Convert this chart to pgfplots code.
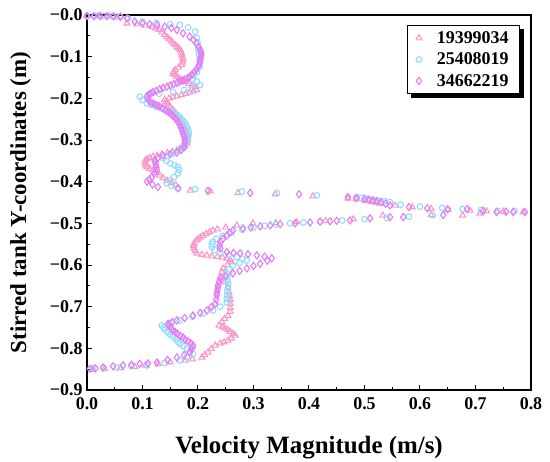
\documentclass[border=0pt]{standalone}
\usepackage{fontspec}
\setmainfont{Liberation Serif}
\usepackage{pgfplots}
\pgfplotsset{compat=1.18}
\usetikzlibrary{shadows}
\definecolor{cA}{RGB}{250,150,200}
\definecolor{cB}{RGB}{145,220,250}
\definecolor{cC}{RGB}{225,125,248}
\begin{document}
\begin{tikzpicture}
\useasboundingbox (-87bp,-72bp) rectangle (463bp,390bp);
\begin{axis}[
  scale only axis, width=444bp, height=375bp,
  xmin=0, xmax=0.8, ymin=-0.9, ymax=0,
  xtick={0,0.1,0.2,0.3,0.4,0.5,0.6,0.7,0.8},
  xticklabels={0.0,0.1,0.2,0.3,0.4,0.5,0.6,0.7,0.8},
  ytick={-0.9,-0.8,-0.7,-0.6,-0.5,-0.4,-0.3,-0.2,-0.1,0},
  yticklabels={−0.9,−0.8,−0.7,−0.6,−0.5,−0.4,−0.3,−0.2,−0.1,−0.0},
  minor x tick num=1, minor y tick num=1,
  tick align=inside, xtick pos=bottom, ytick pos=left,
  major tick length=5bp, minor tick length=3bp,
  axis line style={line width=1.3pt},
  every tick/.style={black, line width=1pt},
  ticklabel style={font=\fontsize{18}{18}\selectfont\bfseries},
  xticklabel style={yshift=-4bp},
  yticklabel style={xshift=-1bp},
  xlabel={Velocity Magnitude (m/s)},
  ylabel={Stirred tank Y-coordinates (m)},
  xlabel style={font=\fontsize{25}{25}\selectfont\bfseries, yshift=-20bp},
  ylabel style={font=\fontsize{23}{23}\selectfont\bfseries, yshift=12bp},
  legend style={at={(rel axis cs:0.975,0.973)}, anchor=north east,
    draw=black, line width=0.6pt, fill=white,
    drop shadow={shadow xshift=4bp, shadow yshift=-4bp, fill=black, opacity=1},
    font=\fontsize{18}{18}\selectfont\bfseries, row sep=4bp,
    inner xsep=9bp, inner ysep=4bp,
    /tikz/every odd column/.append style={column sep=13bp}},
  legend cell align=left,
]
\addplot[only marks, mark=triangle, mark size=3.4pt, cA, line width=1.1pt] coordinates {
(0,-0.002)(0.02,-0.002)(0.04,-0.003)(0.055,-0.006)
(0.072,-0.020)(0.090,-0.022)(0.105,-0.025)(0.117,-0.028)(0.124,-0.032)(0.130,-0.036)(0.135,-0.042)(0.140,-0.048)
(0.144,-0.053)(0.148,-0.058)(0.152,-0.063)(0.155,-0.068)(0.159,-0.072)(0.162,-0.076)(0.165,-0.080)(0.168,-0.084)(0.170,-0.090)(0.171,-0.096)(0.172,-0.102)(0.173,-0.108)
(0.172,-0.114)(0.171,-0.120)(0.165,-0.126)(0.159,-0.132)(0.156,-0.136)(0.155,-0.140)(0.158,-0.144)(0.162,-0.148)(0.166,-0.152)(0.171,-0.156)
(0.177,-0.160)(0.183,-0.165)(0.189,-0.169)(0.195,-0.173)(0.198,-0.180)(0.192,-0.183)(0.185,-0.186)(0.178,-0.189)(0.170,-0.192)(0.162,-0.195)(0.155,-0.197)(0.148,-0.200)
(0.140,-0.203)(0.142,-0.208)(0.145,-0.212)(0.148,-0.217)(0.150,-0.221)(0.155,-0.228)(0.160,-0.236)(0.164,-0.244)(0.168,-0.252)(0.172,-0.260)(0.175,-0.268)(0.178,-0.276)
(0.180,-0.284)(0.181,-0.290)(0.181,-0.296)(0.181,-0.302)(0.180,-0.308)(0.176,-0.313)(0.172,-0.317)(0.167,-0.321)(0.162,-0.325)(0.154,-0.328)(0.145,-0.331)(0.135,-0.334)
(0.126,-0.337)(0.119,-0.340)(0.113,-0.343)(0.108,-0.346)(0.105,-0.349)(0.105,-0.356)(0.106,-0.361)(0.108,-0.365)(0.113,-0.369)(0.119,-0.373)(0.125,-0.379)
(0.131,-0.385)(0.137,-0.391)(0.144,-0.397)(0.152,-0.403)(0.160,-0.408)(0.186,-0.421)(0.222,-0.423)(0.272,-0.427)
(0.339,-0.430)(0.407,-0.435)(0.470,-0.440)(0.485,-0.442)(0.500,-0.445)(0.507,-0.446)(0.515,-0.448)(0.522,-0.450)(0.530,-0.452)
(0.555,-0.457)(0.586,-0.461)(0.620,-0.465)(0.650,-0.467)(0.690,-0.469)(0.720,-0.471)
(0.750,-0.472)(0.786,-0.473)
(0.708,-0.476)(0.677,-0.481)(0.620,-0.480)(0.533,-0.481)(0.480,-0.490)(0.430,-0.494)
(0.378,-0.497)(0.340,-0.499)(0.299,-0.500)(0.270,-0.505)(0.250,-0.510)(0.235,-0.514)
(0.227,-0.517)(0.221,-0.521)(0.215,-0.525)(0.209,-0.530)(0.204,-0.534)(0.200,-0.538)(0.197,-0.541)(0.193,-0.548)(0.192,-0.554)(0.193,-0.560)(0.195,-0.566)
(0.198,-0.572)(0.207,-0.575)(0.216,-0.577)(0.225,-0.579)(0.235,-0.580)(0.244,-0.582)(0.252,-0.584)(0.258,-0.588)(0.261,-0.593)(0.253,-0.600)(0.245,-0.608)(0.243,-0.618)
(0.243,-0.629)(0.248,-0.641)(0.254,-0.654)(0.256,-0.665)(0.257,-0.675)(0.258,-0.684)(0.258,-0.693)(0.258,-0.703)(0.258,-0.712)(0.254,-0.722)(0.248,-0.729)
(0.243,-0.736)(0.238,-0.745)(0.244,-0.749)(0.249,-0.752)(0.254,-0.756)(0.258,-0.760)(0.263,-0.765)(0.267,-0.769)(0.260,-0.776)
(0.254,-0.781)(0.247,-0.785)(0.240,-0.788)(0.231,-0.793)(0.224,-0.801)(0.218,-0.810)(0.212,-0.816)
(0.207,-0.822)(0.190,-0.826)(0.177,-0.829)(0.150,-0.833)(0.128,-0.837)(0.105,-0.841)
(0.086,-0.844)(0.060,-0.847)(0.032,-0.849)(0.010,-0.851)
};
\addlegendentry{19399034}
\addplot[only marks, mark=o, mark size=2.9pt, cB, line width=1.1pt] coordinates {
(0,-0.002)(0.015,-0.002)(0.03,-0.002)(0.045,-0.003)(0.06,-0.004)
(0.074,-0.008)(0.100,-0.016)(0.125,-0.019)(0.150,-0.022)(0.167,-0.024)(0.182,-0.030)
(0.195,-0.040)(0.198,-0.055)(0.199,-0.066)(0.200,-0.076)(0.201,-0.085)(0.202,-0.095)(0.203,-0.104)(0.204,-0.112)(0.203,-0.124)
(0.198,-0.137)(0.192,-0.145)(0.190,-0.153)(0.198,-0.160)(0.204,-0.168)(0.191,-0.176)
(0.175,-0.180)(0.155,-0.185)(0.130,-0.189)(0.110,-0.192)(0.095,-0.196)(0.100,-0.204)
(0.108,-0.212)(0.116,-0.216)(0.125,-0.220)(0.135,-0.224)(0.144,-0.228)(0.151,-0.232)(0.157,-0.236)(0.162,-0.240)(0.167,-0.245)(0.171,-0.251)(0.175,-0.257)
(0.178,-0.263)(0.180,-0.269)(0.182,-0.275)(0.183,-0.281)(0.183,-0.287)(0.182,-0.293)(0.180,-0.299)(0.178,-0.305)(0.176,-0.311)(0.173,-0.317)(0.164,-0.325)
(0.155,-0.332)(0.145,-0.338)(0.137,-0.344)(0.143,-0.350)(0.150,-0.356)(0.158,-0.361)
(0.164,-0.365)(0.166,-0.372)(0.164,-0.380)(0.157,-0.389)(0.150,-0.397)(0.144,-0.404)
(0.152,-0.410)(0.164,-0.416)(0.195,-0.418)(0.279,-0.424)(0.342,-0.428)(0.414,-0.433)
(0.486,-0.437)(0.495,-0.439)(0.505,-0.441)(0.515,-0.443)(0.525,-0.445)(0.536,-0.447)(0.546,-0.449)(0.565,-0.455)(0.600,-0.460)
(0.640,-0.463)(0.677,-0.466)(0.710,-0.468)(0.740,-0.470)(0.770,-0.470)
(0.623,-0.481)(0.580,-0.484)(0.540,-0.487)(0.500,-0.490)(0.460,-0.493)(0.420,-0.496)
(0.390,-0.498)(0.366,-0.500)(0.340,-0.503)(0.320,-0.506)(0.300,-0.510)(0.280,-0.515)
(0.260,-0.522)(0.245,-0.530)(0.233,-0.537)(0.227,-0.544)(0.225,-0.550)(0.225,-0.557)(0.230,-0.564)
(0.240,-0.570)(0.255,-0.576)(0.270,-0.581)(0.280,-0.585)(0.288,-0.589)(0.275,-0.595)
(0.263,-0.601)(0.256,-0.610)(0.252,-0.620)(0.253,-0.628)(0.253,-0.637)(0.254,-0.645)(0.254,-0.654)(0.253,-0.663)(0.253,-0.672)(0.252,-0.681)
(0.252,-0.690)(0.240,-0.700)(0.227,-0.709)(0.210,-0.716)(0.190,-0.724)(0.167,-0.733)
(0.150,-0.739)(0.135,-0.745)(0.138,-0.750)(0.140,-0.755)(0.145,-0.761)(0.150,-0.767)(0.155,-0.772)(0.160,-0.778)(0.164,-0.784)(0.167,-0.789)
(0.174,-0.795)(0.180,-0.801)(0.186,-0.807)(0.191,-0.813)(0.180,-0.821)(0.167,-0.829)(0.140,-0.835)(0.108,-0.841)
(0.080,-0.843)(0.054,-0.846)(0.030,-0.847)(0.010,-0.848)
};
\addlegendentry{25408019}
\addplot[only marks, mark=diamond, mark size=3.6pt, cC, line width=1.1pt] coordinates {
(0,-0.003)(0.012,-0.003)(0.024,-0.003)(0.036,-0.003)(0.048,-0.003)(0.06,-0.004)
(0.072,-0.008)(0.086,-0.016)(0.100,-0.020)(0.113,-0.022)(0.126,-0.024)(0.140,-0.028)
(0.152,-0.031)(0.162,-0.036)(0.173,-0.044)(0.185,-0.052)(0.192,-0.060)(0.197,-0.068)
(0.202,-0.078)(0.204,-0.084)(0.206,-0.090)(0.206,-0.096)(0.205,-0.102)(0.204,-0.108)(0.203,-0.114)(0.202,-0.120)(0.200,-0.125)(0.197,-0.131)(0.193,-0.137)
(0.189,-0.143)(0.185,-0.148)(0.181,-0.152)(0.176,-0.155)(0.172,-0.158)(0.167,-0.160)(0.162,-0.163)(0.156,-0.166)(0.150,-0.169)(0.144,-0.172)(0.137,-0.175)(0.131,-0.178)
(0.125,-0.182)(0.119,-0.185)(0.115,-0.188)(0.112,-0.190)(0.108,-0.196)(0.110,-0.202)(0.113,-0.208)(0.117,-0.211)(0.122,-0.214)(0.127,-0.217)
(0.131,-0.220)(0.136,-0.224)(0.141,-0.228)(0.146,-0.232)(0.150,-0.236)(0.154,-0.241)(0.158,-0.246)(0.161,-0.251)(0.164,-0.257)(0.167,-0.263)(0.169,-0.270)(0.171,-0.277)
(0.173,-0.285)(0.175,-0.292)(0.176,-0.300)(0.176,-0.308)(0.176,-0.317)(0.170,-0.324)(0.162,-0.330)(0.150,-0.334)
(0.137,-0.337)(0.128,-0.343)(0.122,-0.349)(0.123,-0.354)(0.124,-0.360)(0.125,-0.366)(0.126,-0.372)(0.121,-0.381)
(0.117,-0.389)(0.112,-0.395)(0.108,-0.400)(0.118,-0.407)(0.128,-0.413)(0.164,-0.416)
(0.218,-0.422)(0.294,-0.427)(0.382,-0.430)(0.470,-0.437)(0.485,-0.439)(0.500,-0.441)(0.508,-0.443)(0.515,-0.445)(0.522,-0.447)
(0.530,-0.449)(0.538,-0.453)(0.546,-0.457)(0.580,-0.461)(0.613,-0.464)(0.650,-0.466)(0.685,-0.466)
(0.714,-0.470)(0.738,-0.473)(0.755,-0.472)(0.768,-0.473)(0.789,-0.473)
(0.642,-0.480)(0.570,-0.485)(0.546,-0.485)(0.510,-0.488)(0.474,-0.493)(0.450,-0.494)
(0.438,-0.495)(0.420,-0.496)(0.402,-0.498)(0.375,-0.500)(0.348,-0.502)(0.330,-0.505)
(0.312,-0.507)(0.295,-0.510)(0.281,-0.512)(0.263,-0.517)(0.257,-0.523)(0.252,-0.529)(0.245,-0.537)
(0.240,-0.545)(0.239,-0.553)(0.240,-0.560)(0.252,-0.569)(0.264,-0.571)(0.276,-0.572)(0.290,-0.574)(0.306,-0.577)
(0.320,-0.580)(0.333,-0.584)(0.325,-0.590)(0.312,-0.597)(0.300,-0.602)(0.288,-0.608)
(0.275,-0.614)(0.263,-0.620)(0.250,-0.626)(0.240,-0.632)(0.238,-0.640)(0.236,-0.649)
(0.236,-0.655)(0.235,-0.661)(0.234,-0.667)(0.234,-0.673)(0.233,-0.683)(0.231,-0.693)(0.224,-0.701)(0.216,-0.709)
(0.204,-0.715)(0.191,-0.721)(0.176,-0.727)(0.162,-0.733)(0.154,-0.737)(0.146,-0.741)(0.148,-0.745)(0.150,-0.749)(0.152,-0.753)
(0.155,-0.757)(0.159,-0.761)(0.163,-0.765)(0.168,-0.770)(0.173,-0.774)(0.177,-0.779)(0.182,-0.783)(0.187,-0.788)(0.191,-0.793)(0.190,-0.798)(0.188,-0.802)
(0.185,-0.810)(0.175,-0.816)(0.162,-0.822)(0.145,-0.828)(0.126,-0.834)(0.110,-0.836)
(0.095,-0.837)(0.080,-0.839)(0.065,-0.841)(0.047,-0.843)(0.029,-0.846)(0.015,-0.848)
(0.005,-0.849)
};
\addlegendentry{34662219}
\end{axis}
\end{tikzpicture}
\end{document}
